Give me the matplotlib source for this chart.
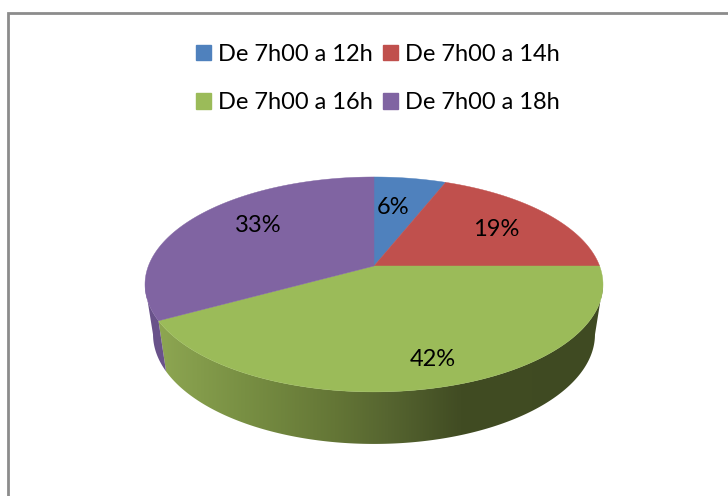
import numpy as np
import matplotlib
matplotlib.use("Agg")
import matplotlib.pyplot as plt
from matplotlib.patches import Patch, Polygon
from matplotlib.colors import LinearSegmentedColormap

# === Data ===
categories = ["De 7h00 a 12h", "De 7h00 a 14h", "De 7h00 a 16h", "De 7h00 a 18h"]
shares = [6, 19, 42, 33]
colors = ["#4F81BD", "#C0504D", "#9BBB59", "#8064A2"]
label_xy = [(393, 207), (496, 230), (433, 360), (258, 226)]

plt.rcParams["font.family"] = ["Lato", "DejaVu Sans"]

# === Pie geometry (pixels), perspective tilt of the disc ===
cx, cy = 374, 266
tilt = 0.1716
rx, ry = 225.6, 104.3
side_rx, side_ry, side_cy = 217.7, 106.4, 315.5


def rim(theta, a, b, yc):
    # theta is clockwise from 12 o'clock, in degrees
    t = np.radians(theta)
    w = 1 + tilt * np.cos(t)
    return cx + a * np.sin(t) / w, yc - b * np.cos(t) / w


fig = plt.figure(figsize=(7.28, 4.96), dpi=100)
ax = fig.add_axes([0, 0, 1, 1])

edges = np.cumsum([0] + shares) * 3.6
left_edge = edges[3]

# === Side wall, green part with the horizontal shading ===
right_ext, left_ext = 100, 260
th = np.linspace(right_ext, left_edge, 200)
tx, ty = rim(th, rx, ry, cy)
bx, by = rim(th[::-1], side_rx, side_ry, side_cy)
wall = Polygon(np.c_[np.r_[tx, bx], np.r_[ty, by]], closed=True, fc="none", ec="none")
ax.add_patch(wall)
shade = LinearSegmentedColormap.from_list("shade", [
    (0.0, "#8EA752"), (0.2, "#788F43"), (0.4, "#647636"), (0.52, "#566530"),
    (0.68, "#414C23"), (1.0, "#3F4A22"),
])
img = ax.imshow(np.linspace(0, 1, 256)[None, :], cmap=shade, aspect="auto",
                extent=[155, 604, 450, 260], zorder=1)
img.set_clip_path(wall)

# purple part of the wall
th = np.linspace(left_edge, left_ext, 60)
tx, ty = rim(th, rx, ry, cy)
bx, by = rim(th[::-1], side_rx, side_ry, side_cy)
ax.fill(np.r_[tx, bx], np.r_[ty, by], color="#69528A", lw=0, zorder=1)

# === Top faces ===
for i in range(len(shares)):
    th = np.linspace(edges[i], edges[i + 1], 120)
    x, y = rim(th, rx, ry, cy)
    ax.fill(np.r_[cx, x], np.r_[cy, y], color=colors[i], lw=0.3, zorder=2)

for (lx, ly), s in zip(label_xy, shares):
    ax.text(lx, ly, f"{s}%", ha="center", va="center", fontsize=17, color="black", zorder=3)

# === Legend, filled column by column ===
order = [0, 2, 1, 3]
handles = [Patch(color=colors[i], label=categories[i]) for i in order]
ax.legend(handles=handles, ncol=2, loc="center", bbox_to_anchor=(378, 78.5),
          bbox_transform=ax.transData, frameon=False, fontsize=17,
          handlelength=0.635, handleheight=0.635, handletextpad=0.3,
          columnspacing=0.42, labelspacing=1.15, borderpad=0, labelcolor="black")

# === Chart border: only top and left are in view ===
ax.plot([8, 8, 728], [496, 13, 13], color="#8C8C8C", lw=2, solid_joinstyle="miter", zorder=0)

ax.set_xlim(0, 728)
ax.set_ylim(496, 0)
ax.axis("off")

plt.savefig("out.png", dpi=100)
